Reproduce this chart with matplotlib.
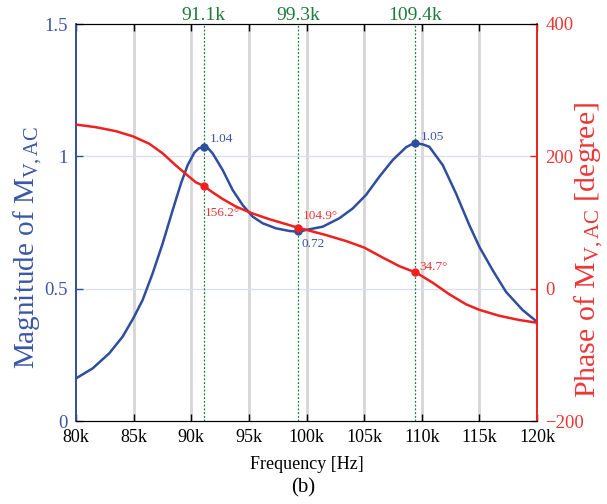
import matplotlib
matplotlib.use("Agg")
import matplotlib.pyplot as plt

plt.rcParams['font.family'] = ['Liberation Serif', 'DejaVu Serif']
plt.rcParams['mathtext.fontset'] = 'custom'
plt.rcParams['mathtext.rm'] = 'Liberation Serif'
plt.rcParams['mathtext.it'] = 'Liberation Serif:italic'

# ---- data (frequency in kHz) ----
freq_mag = [80.0, 81.45, 82.89, 84.05, 84.97, 85.78, 86.65, 87.52, 88.39, 89.11, 89.69, 90.27,
            90.65, 91.05, 91.45, 91.86, 92.73, 93.59, 94.46, 95.33, 96.20, 97.35, 98.51, 99.38,
            99.96, 101.40, 102.85, 104.01, 105.16, 106.32, 107.48, 108.63, 109.10, 109.56,
            110.10, 110.66, 111.82, 112.97, 114.13, 115.0, 116.15, 117.31, 118.76, 120.0]
mag = [0.161, 0.199, 0.256, 0.319, 0.388, 0.457, 0.558, 0.671, 0.797, 0.898, 0.967, 1.014,
       1.030, 1.036, 1.031, 1.011, 0.948, 0.873, 0.816, 0.772, 0.747, 0.728, 0.718, 0.715,
       0.722, 0.734, 0.766, 0.803, 0.854, 0.923, 0.986, 1.034, 1.045, 1.049,
       1.045, 1.036, 0.967, 0.860, 0.740, 0.658, 0.570, 0.488, 0.419, 0.375]

freq_ph = [80.0, 81.74, 83.47, 84.97, 86.36, 87.52, 88.68, 89.69, 90.41, 91.05, 91.86, 92.73,
           93.88, 95.33, 96.77, 98.22, 99.38, 99.96, 101.69, 103.43, 105.02, 106.61, 108.06,
           109.56, 110.95, 112.39, 113.84, 115.0, 116.73, 118.47, 120.0]
phase = [248, 244, 238, 230, 219, 204.5, 186, 171, 160.6, 155.6, 145.5, 135.5,
         124, 113.6, 105, 97.6, 91.5, 89, 81, 72, 62, 47, 34,
         23.8, 9, -8.5, -23.6, -32, -41, -47.4, -51.5]

mark_f = [91.1, 99.3, 109.4]
mark_mag = [1.036, 0.716, 1.049]
mark_ph = [155.6, 91.5, 24.5]
mag_labels = ['1.04', '0.72', '1.05']
ph_labels = ['156.2°', '104.9°', '34.7°']
top_labels = ['91.1k', '99.3k', '109.4k']

xticks = [80, 85, 90, 95, 100, 105, 110, 115, 120]
xticklabels = ['80k', '85k', '90k', '95k', '100k', '105k', '110k', '115k', '120k']
yticks_mag = [0, 0.5, 1, 1.5]
yticklabels_mag = ['0', '0.5', '1', '1.5']
yticks_ph = [-200, 0, 200, 400]

BLUE = '#2e4e9e'
BLUE_T = '#3b56a6'
RED = '#ee2020'
RED_T = '#ee3535'
GREEN = '#1e7b3c'

fig = plt.figure(figsize=(6.07, 5.04), dpi=100)
ax = fig.add_axes([76/607, 83/504, 461/607, 397/504])
ax2 = ax.twinx()

ax.set_xlim(80, 120)
ax.set_ylim(0, 1.5)
ax2.set_ylim(-200, 400)

# grids
for xv in xticks[1:-1]:
    ax.axvline(xv, color='#d6d6d6', lw=2.0, zorder=0)
for yv in [0.5, 1.0]:
    ax.axhline(yv, color='#d9dff1', lw=0.9, zorder=0)
for xv in mark_f:
    ax.axvline(xv, color=GREEN, lw=0.9, ls=(0, (1.5, 1.5)), zorder=1)

ax.plot(freq_mag, mag, color=BLUE, lw=1.8, zorder=3)
ax.plot(mark_f, mark_mag, 'o', color=BLUE, ms=5, zorder=4)
ax2.plot(freq_ph, phase, color=RED, lw=1.8, zorder=3)
ax2.plot(mark_f, mark_ph, 'o', color=RED, ms=5, zorder=4)

# annotations (offsets in points)
mag_off = [(4.3, 5.8), (2.2, -9.0), (4.3, 4.8)]
for f, m, lab, (dx, dy) in zip(mark_f, mark_mag, mag_labels, mag_off):
    ax.annotate(lab, (f, m), xytext=(dx, dy), textcoords='offset points',
                color=BLUE_T, fontsize=9.5, va='center', ha='left', zorder=5)
ph_off = [(0.7, -20.0), (2.9, 8.6), (3.6, 3.6)]
for f, p, lab, (dx, dy) in zip(mark_f, mark_ph, ph_labels, ph_off):
    ax2.annotate(lab, (f, p), xytext=(dx, dy), textcoords='offset points',
                 color=RED_T, fontsize=9.5, va='center', ha='left', zorder=5)

# axes styling
ax.set_xticks(xticks)
ax.set_xticklabels(xticklabels)
ax.set_yticks(yticks_mag)
ax.set_yticklabels(yticklabels_mag)
ax.tick_params(axis='x', direction='in', length=5, width=1, colors='black',
               labelsize=13, top=True, pad=6)
ax.tick_params(axis='y', direction='in', length=5, width=1, colors=BLUE,
               labelcolor=BLUE_T, labelsize=13.5, pad=6)
ax2.set_yticks(yticks_ph)
ax2.tick_params(axis='y', direction='in', length=5, width=1, colors=RED,
                labelcolor=RED_T, labelsize=13.5, pad=6)

for a in (ax, ax2):
    a.spines['left'].set_color(BLUE)
    a.spines['right'].set_color(RED)
    a.spines['left'].set_linewidth(1.2)
    a.spines['right'].set_linewidth(1.2)
    a.spines['top'].set_color('black')
    a.spines['bottom'].set_color('black')

secax = ax.secondary_xaxis('top')
secax.set_xticks(mark_f)
secax.set_xticklabels(top_labels)
secax.tick_params(direction='in', length=0, colors=GREEN, labelcolor=GREEN,
                  labelsize=14, pad=0)
secax.spines['top'].set_visible(False)

ax.set_xlabel('Frequency [Hz]', fontsize=13, labelpad=7)
fig.text(28/607, 1 - 247.5/504, r'Magnitude of M$_{\mathrm{V,AC}}$', fontsize=21,
         color=BLUE_T, rotation=90, ha='center', va='center')
fig.text(589/607, 1 - 250/504, r'Phase of M$_{\mathrm{V,AC}}$ [degree]', fontsize=21.5,
         color=RED_T, rotation=90, ha='center', va='center')

fig.text(0.5, 0.033, '(b)', ha='center', va='center', fontsize=15)

fig.savefig('out.png', dpi=100)
